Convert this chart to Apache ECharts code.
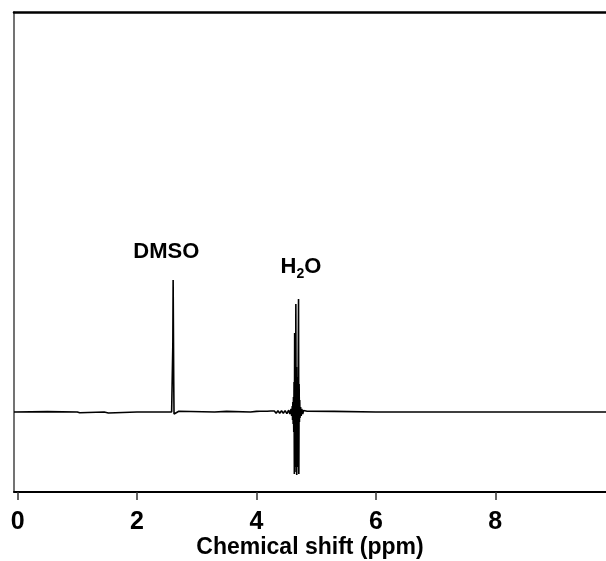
<!DOCTYPE html>
<html><head><meta charset="utf-8">
<script src="https://cdn.jsdelivr.net/npm/echarts@6/dist/echarts.min.js"></script>
<style>html,body{margin:0;padding:0;background:#fff}#c{width:606px;height:561px}</style>
</head><body><div id="c"></div>
<script>
// Chemical shift (ppm)
const shift = [
 -0.06, 0.5, 1.0, 1.02, 1.04, 1.06, 1.45, 1.47, 1.52, 1.54, 2.0, 2.5, 2.58, 2.595, 2.600, 2.605, 2.615, 2.62, 2.63, 2.7, 2.72,
 3.3, 3.5, 3.52, 3.9, 4.0, 4.03, 4.06, 4.09, 4.12, 4.15, 4.18, 4.21, 4.24, 4.27, 4.30, 4.33, 4.36, 4.39, 4.42, 4.45, 4.48, 4.51, 4.54, 4.56, 4.58, 4.59,
 4.600, 4.605, 4.610, 4.615, 4.620, 4.625, 4.630, 4.635, 4.640, 4.645, 4.650, 4.655, 4.660, 4.665, 4.670, 4.675, 4.680, 4.685, 4.690, 4.695,
 4.700, 4.705, 4.710, 4.715, 4.720, 4.725, 4.730, 4.740, 4.750, 4.760, 4.775, 4.79, 4.81, 4.85, 4.87, 5.3, 5.32, 6.0, 7.0, 8.0, 9.0, 9.9
];
// Intensity (a.u.)
const intensity = [
 0, 0.004, 0, 0.015, -0.008, 0, 0, -0.01, -0.01, 0, 0, 0, 0, -0.02, 0.68, 1.32, 0.3, -0.02, 0, 0.008, 0,
 0, 0.006, 0, 0, 0.006, -0.006, 0.007, -0.007, 0.008, -0.008, 0.008, -0.009, 0.01, -0.01, 0.01, -0.012, 0.012, -0.012, 0.012, -0.012, 0.014, -0.016, 0.018, -0.02, 0.03, -0.04,
 0.06, -0.08, 0.1, -0.12, 0.15, -0.2, 0.3, -0.62, 0.79, -0.4, 0.5, -0.55, 1.08, -0.6, 0.45, -0.63, 0.35, -0.55, 0.3, -0.3,
 0.5, 1.13, -0.62, 0.28, -0.1, 0.12, -0.06, 0.05, -0.04, 0.03, -0.02, 0.015, 0, 0.008, 0, 0.006, 0, 0, 0, 0, 0, 0
];
const tickValues = [0, 2, 4, 6, 8];
const peakLabels = ['DMSO', 'H2O'];
const labelShift = [2.49, 4.745];
const labelIntensity = [1.6, 1.45];

const data = shift.map((x, i) => [x, intensity[i]]);
const chart = echarts.init(document.getElementById('c'));
const font = 'Arial, "Liberation Sans", sans-serif';
chart.setOption({
  animation: false,
  grid: { left: 14, right: 0, top: 12, bottom: 69, containLabel: false, outerBoundsMode: 'none' },
  xAxis: [{
    type: 'value', min: -0.06, max: 9.854, position: 'bottom',
    name: 'Chemical shift (ppm)', nameLocation: 'middle', nameGap: 44, nameMoveOverlap: false,
    nameTextStyle: { fontFamily: font, fontWeight: 'bold', fontSize: 23, color: '#000' },
    axisLine: { onZero: false, lineStyle: { color: '#000', width: 2 } },
    axisTick: { customValues: tickValues, length: 8, lineStyle: { color: '#333', width: 1.5 } },
    axisLabel: { customValues: tickValues, margin: 18, fontFamily: font, fontWeight: 'bold', fontSize: 25, color: '#000' },
    splitLine: { show: false }
  }, {
    type: 'value', min: -0.06, max: 9.854, position: 'top',
    axisLine: { onZero: false, lineStyle: { color: '#000', width: 2.5 } },
    axisTick: { show: false }, axisLabel: { show: false }, splitLine: { show: false }
  }],
  yAxis: {
    type: 'value', min: -0.8, max: 4.0,
    axisLine: { show: true, onZero: false, lineStyle: { color: '#444', width: 1.5 } },
    axisTick: { show: false }, axisLabel: { show: false }, splitLine: { show: false }
  },
  series: [{
    type: 'line', data: data, showSymbol: false, symbol: 'none',
    lineStyle: { color: '#000', width: 1.6 }
  }, {
    type: 'scatter', symbolSize: 0, itemStyle: { color: '#000', opacity: 1 },
    data: labelShift.map((x, i) => ({ value: [x, labelIntensity[i]], name: peakLabels[i] })),
    label: {
      show: true, position: 'inside', color: '#000', opacity: 1, textBorderWidth: 0,
      formatter: p => p.name === 'H2O' ? '{b|H}{s|2}{b|O}' : '{b|' + p.name + '}',
      rich: {
        b: { fontFamily: font, fontWeight: 'bold', fontSize: 22, color: '#000', textBorderWidth: 0 },
        s: { fontFamily: font, fontWeight: 'bold', fontSize: 14, color: '#000', textBorderWidth: 0, padding: [14, 0, 0, 0] }
      }
    }
  }]
});
</script></body></html>
